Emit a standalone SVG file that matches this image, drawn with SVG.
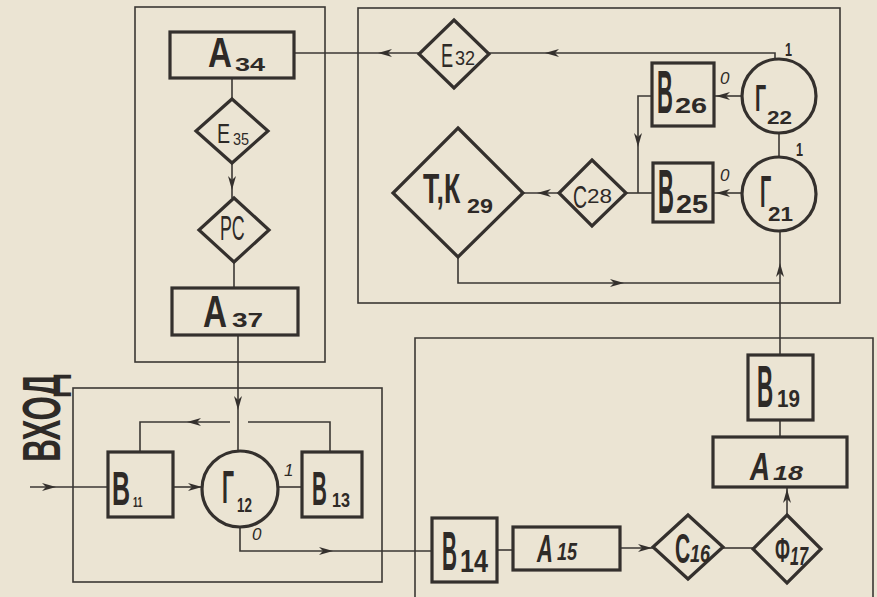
<svg xmlns="http://www.w3.org/2000/svg" width="877" height="597" viewBox="0 0 877 597">
<style>
.bg{fill:#ebe4d3}
.frame{fill:none;stroke:#3b3734;stroke-width:1.6}
.node{fill:none;stroke:#34302d;stroke-width:3.2}
.wire{fill:none;stroke:#3b3734;stroke-width:1.6}
.ah{fill:#34302d}
text{font-family:"Liberation Sans","DejaVu Sans",sans-serif;fill:#2e2a27;font-weight:bold}
.thin{font-weight:normal}
.it{font-style:italic}
.lab{font-weight:normal;font-style:italic;font-size:17px}
.one{font-weight:bold;font-size:18px}
</style>
<defs>
<path id="ah" d="M0,0 L-14,-4 L-10,0 L-14,4 Z"/>
</defs>
<rect class="bg" x="0" y="0" width="877" height="597"/>

<g id="frames">
<rect class="frame" x="135" y="7" width="190" height="355"/>
<rect class="frame" x="358" y="8" width="482" height="295"/>
<rect class="frame" x="73" y="388" width="309" height="194"/>
<path class="frame" d="M415,600 V338 H873 V600"/>
</g>

<g id="connectors">
<path class="wire" d="M232,78 V99"/>
<path class="wire" d="M232,163 V198"/>
<path class="wire" d="M234,262 V288"/>
<path class="wire" d="M238,335 V450"/>
<path class="wire" d="M775,59 V53 H489"/>
<path class="wire" d="M419,53 H294"/>
<path class="wire" d="M742,96 H714"/>
<path class="wire" d="M743,193 H713"/>
<path class="wire" d="M779,133 V157"/>
<path class="wire" d="M652,96 H638 V193"/>
<path class="wire" d="M653,193 H626"/>
<path class="wire" d="M559,193 H523"/>
<path class="wire" d="M458,257 V283 H780"/>
<path class="wire" d="M780,355 V231"/>
<path class="wire" d="M780,420 V437"/>
<path class="wire" d="M787,515 V487"/>
<path class="wire" d="M723,548 H753"/>
<path class="wire" d="M620,548 H653"/>
<path class="wire" d="M497,550 H513"/>
<path class="wire" d="M240,527 V551 H432"/>
<path class="wire" d="M30,487 H108"/>
<path class="wire" d="M173,487 H202"/>
<path class="wire" d="M279,487 H302"/>
<path class="wire" d="M140,452 V422 H230"/>
<path class="wire" d="M330,452 V422 H248"/>
<use class="ah" href="#ah" transform="translate(232,190) rotate(90)"/>
<use class="ah" href="#ah" transform="translate(238,410) rotate(90)"/>
<use class="ah" href="#ah" transform="translate(545,53) rotate(180)"/>
<use class="ah" href="#ah" transform="translate(378,53) rotate(180)"/>
<use class="ah" href="#ah" transform="translate(716,96) rotate(180)"/>
<use class="ah" href="#ah" transform="translate(716,193) rotate(180)"/>
<use class="ah" href="#ah" transform="translate(638,147) rotate(90)"/>
<use class="ah" href="#ah" transform="translate(537,193) rotate(180)"/>
<use class="ah" href="#ah" transform="translate(624,283)"/>
<use class="ah" href="#ah" transform="translate(780,263) rotate(-90)"/>
<use class="ah" href="#ah" transform="translate(787,489) rotate(-90)"/>
<use class="ah" href="#ah" transform="translate(652,548)"/>
<use class="ah" href="#ah" transform="translate(333,551)"/>
<use class="ah" href="#ah" transform="translate(56,487)"/>
<use class="ah" href="#ah" transform="translate(202,487)"/>
<use class="ah" href="#ah" transform="translate(187,422) rotate(180)"/>
</g>

<g id="A34">
<rect class="node" x="170" y="32" width="124" height="46"/>
<text transform="translate(208,67) scale(0.79,1)" font-size="42">А</text>
<text transform="translate(235,71) scale(1.5,1)" font-size="18">34</text>
</g>
<g id="E35">
<polygon class="node" points="232,99 268,131 232,163 196,131"/>
<text class="thin" transform="translate(217,143) scale(0.7,1)" font-size="28">Е</text>
<text class="thin" transform="translate(233,145) scale(0.85,1)" font-size="17">35</text>
</g>
<g id="PC">
<polygon class="node" points="234,198 269,230 234,262 199,230"/>
<text class="thin" transform="translate(220,240) scale(0.51,1)" font-size="35">РС</text>
</g>
<g id="A37">
<rect class="node" x="172" y="288" width="126" height="47"/>
<text transform="translate(203,327) scale(0.74,1)" font-size="45">А</text>
<text transform="translate(232,327) scale(1.4,1)" font-size="20">37</text>
</g>

<g id="E32">
<polygon class="node" points="454,20 489,54 454,88 419,54"/>
<text class="thin" transform="translate(441,67) scale(0.55,1)" font-size="33">Е</text>
<text class="thin" transform="translate(455,65) scale(0.86,1)" font-size="21">32</text>
</g>
<g id="G22">
<circle class="node" cx="779" cy="96" r="37"/>
<text transform="translate(755,111) scale(0.53,1)" font-size="37">Г</text>
<text transform="translate(767,124) scale(1.25,1)" font-size="18">22</text>
</g>
<g id="G21">
<circle class="node" cx="779" cy="194" r="37"/>
<text transform="translate(760,207) scale(0.45,1)" font-size="44">Г</text>
<text transform="translate(768,221) scale(1.07,1)" font-size="21">21</text>
</g>
<g id="B26">
<rect class="node" x="652" y="63" width="62" height="63"/>
<text transform="translate(657,113) scale(0.36,1)" font-size="61">В</text>
<text transform="translate(675,113) scale(1.31,1)" font-size="22">26</text>
</g>
<g id="B25">
<rect class="node" x="653" y="163" width="60" height="59"/>
<text transform="translate(658,213) scale(0.35,1)" font-size="63">В</text>
<text transform="translate(676,213) scale(1.15,1)" font-size="25">25</text>
</g>
<g id="C28">
<polygon class="node" points="592,160 626,193 592,226 559,193"/>
<text class="thin" transform="translate(573,208) scale(0.61,1)" font-size="32">С</text>
<text class="thin" transform="translate(587,203) scale(1.07,1)" font-size="21">28</text>
</g>
<g id="TK29">
<polygon class="node" points="458,128 523,193 458,257 393,193"/>
<text transform="translate(423,203) scale(0.62,1)" font-size="43">Т,К</text>
<text transform="translate(467,213) scale(1.11,1)" font-size="21">29</text>
</g>

<g id="B11">
<rect class="node" x="108" y="452" width="65" height="65"/>
<text transform="translate(112,505) scale(0.51,1)" font-size="49">В</text>
<text transform="translate(133,507) scale(0.64,1)" font-size="14">11</text>
</g>
<g id="G12">
<circle class="node" cx="240" cy="489" r="38"/>
<text transform="translate(222,503) scale(0.46,1)" font-size="46">Г</text>
<text transform="translate(237,512) scale(0.64,1)" font-size="21">12</text>
</g>
<g id="B13">
<rect class="node" x="302" y="452" width="60" height="65"/>
<text transform="translate(312,505) scale(0.42,1)" font-size="49">В</text>
<text transform="translate(332,507) scale(0.77,1)" font-size="21">13</text>
</g>

<g id="B19">
<rect class="node" x="748" y="355" width="65" height="65"/>
<text transform="translate(757,407) scale(0.38,1)" font-size="59">В</text>
<text transform="translate(777,407) scale(0.86,1)" font-size="24">19</text>
</g>
<g id="A18">
<rect class="node" x="713" y="437" width="134" height="50"/>
<text class="it" transform="translate(750,480) scale(0.73,1)" font-size="38">А</text>
<text class="it" transform="translate(773,480) scale(1.28,1)" font-size="21">18</text>
</g>
<g id="B14">
<rect class="node" x="432" y="518" width="65" height="64"/>
<text transform="translate(442,570) scale(0.37,1)" font-size="56">В</text>
<text transform="translate(460,572) scale(0.81,1)" font-size="31">14</text>
</g>
<g id="A15">
<rect class="node" x="513" y="527" width="107" height="43"/>
<text class="it" transform="translate(537,562) scale(0.58,1)" font-size="38">А</text>
<text class="it" transform="translate(557,560) scale(0.75,1)" font-size="24">15</text>
</g>
<g id="C16">
<polygon class="node" points="688,515 723,547 688,579 653,547"/>
<text transform="translate(675,563) scale(0.5,1)" font-size="42">С</text>
<text class="it" transform="translate(690,562) scale(0.75,1)" font-size="24">16</text>
</g>
<g id="F17">
<polygon class="node" points="787,515 821,549 787,583 753,549"/>
<text transform="translate(775,562) scale(0.5,1)" font-size="35">Ф</text>
<text class="it" transform="translate(790,565) scale(0.65,1)" font-size="25">17</text>
</g>

<g id="labels">
<text transform="translate(60,418) rotate(-90) scale(0.59,1)" text-anchor="middle" font-size="53">ВХОД</text>
<text class="one" transform="translate(785,56) scale(0.7,1)">1</text>
<text class="one" transform="translate(796,156) scale(0.7,1)">1</text>
<text class="lab" x="720" y="84">0</text>
<text class="lab" x="720" y="181">0</text>
<text class="lab" x="284" y="476">1</text>
<text class="lab" x="252" y="540">0</text>
</g>
</svg>
